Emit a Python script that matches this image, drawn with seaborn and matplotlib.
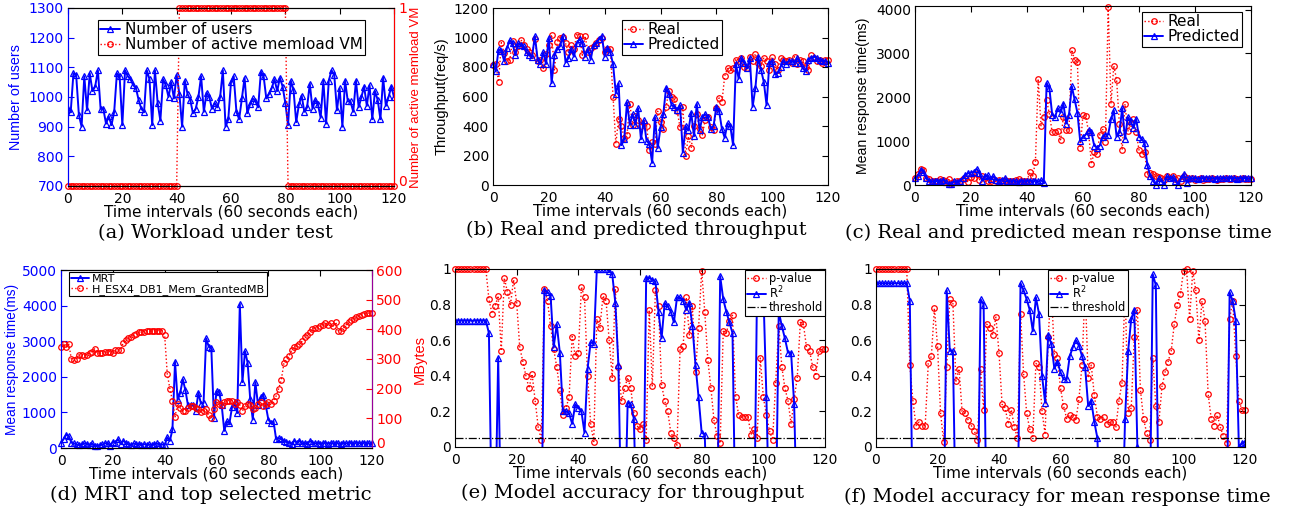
import matplotlib
matplotlib.use("Agg")
import matplotlib.pyplot as plt
import seaborn as sns

# ---------------- data ----------------
intervals = list(range(121))
x_ticks = [0, 20, 40, 60, 80, 100, 120]

users = [
    960, 950, 1080, 1075, 940, 900, 1070, 955, 1080, 1020,
    1035, 1090, 960, 960, 910, 935, 905, 950, 1080, 1070,
    905, 1090, 1070, 1060, 1040, 1030, 990, 960, 950, 1090,
    1060, 905, 1090, 980, 920, 1060, 1040, 1000, 1050, 995,
    1075, 1010, 900, 1055, 1010, 990, 945, 960, 1000, 1070,
    950, 1015, 1000, 960, 980, 965, 1000, 1090, 900, 925,
    1050, 1070, 950, 925, 995, 1065, 945, 975, 995, 985,
    965, 1085, 1070, 995, 1010, 1030, 1060, 1020, 1065, 1035,
    980, 905, 1055, 1025, 915, 975, 1005, 950, 965, 1045,
    960, 990, 975, 930, 1055, 910, 1055, 1090, 1075, 955,
    1030, 900, 1055, 985, 985, 950, 1055, 965, 1000, 1035,
    970, 1040, 925, 1020, 990, 925, 1065, 970, 1000, 1035,
    1000]

memload_vm = [
    0, 0, 0, 0, 0, 0, 0, 0, 0, 0,
    0, 0, 0, 0, 0, 0, 0, 0, 0, 0,
    0, 0, 0, 0, 0, 0, 0, 0, 0, 0,
    0, 0, 0, 0, 0, 0, 0, 0, 0, 0,
    0, 1, 1, 1, 1, 1, 1, 1, 1, 1,
    1, 1, 1, 1, 1, 1, 1, 1, 1, 1,
    1, 1, 1, 1, 1, 1, 1, 1, 1, 1,
    1, 1, 1, 1, 1, 1, 1, 1, 1, 1,
    1, 0, 0, 0, 0, 0, 0, 0, 0, 0,
    0, 0, 0, 0, 0, 0, 0, 0, 0, 0,
    0, 0, 0, 0, 0, 0, 0, 0, 0, 0,
    0, 0, 0, 0, 0, 0, 0, 0, 0, 0,
    0]

tput_real = [
    815, 820, 700, 965, 895, 840, 850, 975, 905, 940,
    985, 950, 920, 900, 880, 990, 840, 850, 790, 890,
    950, 1020, 780, 970, 1000, 1005, 960, 900, 950, 920,
    1020, 1010, 880, 1010, 900, 930, 940, 960, 980, 1000,
    900, 920, 925, 600, 280, 450, 400, 320, 340, 550,
    410, 470, 440, 400, 420, 400, 240, 290, 280, 500,
    430, 380, 530, 640, 600, 580, 500, 390, 530, 200,
    330, 250, 400, 480, 380, 340, 440, 460, 390, 370,
    520, 590, 560, 740, 790, 780, 790, 850, 840, 860,
    800, 790, 870, 840, 890, 830, 810, 860, 840, 780,
    870, 820, 780, 860, 850, 840, 850, 830, 870, 820,
    850, 840, 800, 780, 880, 860, 840, 850, 830, 850,
    850]

tput_pred = [
    820, 770, 920, 910, 840, 930, 980, 960, 880, 960,
    950, 940, 900, 880, 870, 1010, 850, 820, 900, 820,
    1000, 690, 880, 920, 940, 1010, 830, 860, 920, 870,
    960, 990, 960, 870, 920, 850, 950, 960, 990, 1010,
    870, 930, 900, 820, 620, 690, 270, 310, 560, 410,
    480, 410, 520, 310, 440, 300, 280, 150, 460, 250,
    390, 480, 660, 620, 540, 530, 510, 540, 220, 400,
    370, 490, 330, 550, 370, 460, 480, 460, 380, 400,
    530, 500, 380, 320, 420, 400, 270, 820, 720, 860,
    830, 790, 860, 530, 660, 870, 780, 700, 540, 830,
    840, 750, 760, 800, 840, 820, 840, 840, 830, 860,
    830, 790, 770, 850, 860, 870, 860, 850, 840, 840,
    830]

mrt_real = [
    150, 250, 370, 340, 150, 130, 100, 80, 100, 130,
    120, 80, 130, 50, 60, 80, 100, 130, 150, 60,
    180, 150, 250, 120, 200, 150, 100, 80, 130, 100,
    120, 80, 110, 90, 100, 80, 110, 130, 90, 100,
    80, 300, 200, 520, 2420, 1350, 1550, 1930, 1620, 1200,
    1200, 1220, 1030, 1550, 1250, 1260, 3080, 2850, 2800, 850,
    1600, 1570, 1200, 480, 750, 700, 1150, 1280, 980, 4050,
    1850, 2720, 2400, 1380, 800, 1850, 1220, 1420, 1500, 1200,
    800, 700, 750, 250, 280, 250, 200, 180, 150, 120,
    200, 150, 200, 130, 150, 100, 200, 150, 130, 150,
    120, 130, 150, 120, 140, 130, 150, 130, 120, 140,
    130, 150, 140, 130, 150, 140, 130, 150, 140, 130,
    140]

mrt_pred = [
    150, 200, 350, 300, 150, 100, 80, 80, 100, 80,
    120, 60, 20, 30, 80, 60, 100, 150, 230, 270,
    280, 300, 370, 280, 100, 200, 220, 130, 200, 120,
    100, 120, 150, 100, 80, 100, 80, 60, 100, 80,
    90, 100, 80, 100, 80, 110, 50, 2330, 2200, 1600,
    1550, 1750, 1650, 1850, 1400, 1600, 2250, 1950, 1650, 1000,
    1100, 1150, 1250, 1200, 900, 850, 900, 1100, 1150, 1150,
    1500, 1700, 1100, 1200, 1750, 1050, 1550, 1450, 1300, 1500,
    1100, 1050, 950, 450, 200, 100, 0, 150, 100, 0,
    200, 150, 180, 100, 0, 150, 250, 50, 150, 150,
    160, 140, 160, 150, 170, 150, 160, 140, 160, 150,
    160, 150, 170, 150, 160, 140, 160, 150, 160, 150,
    150]

granted_mb = [
    340, 350, 340, 350, 300, 295, 300, 315, 315, 310,
    315, 320, 325, 335, 320, 320, 320, 322, 325, 325,
    320, 330, 330, 330, 355, 365, 370, 375, 380, 385,
    390, 392, 392, 395, 395, 395, 396, 396, 396, 395,
    380, 250, 200, 160, 105, 150, 135, 125, 125, 135,
    140, 140, 135, 130, 120, 125, 130, 110, 100, 130,
    155, 150, 145, 155, 160, 160, 160, 150, 155, 145,
    125, 140, 150, 145, 130, 135, 150, 155, 140, 150,
    155, 150, 160, 175, 200, 230, 285, 300, 310, 330,
    340, 345, 350, 360, 375, 380, 390, 400, 405, 405,
    410, 415, 420, 415, 420, 410, 425, 395, 395, 405,
    415, 425, 430, 435, 440, 445, 450, 452, 455, 455,
    455]

pval_tput = [
    1, 1, 1, 1, 1, 1, 1, 1, 1, 1,
    1, 0.83, 0.75, 0.79, 0.85, 0.54, 0.95, 0.87, 0.80, 0.94,
    0.81, 0.56, 0.48, 0.40, 0.33, 0.41, 0.26, 0.11, 0.04, 0.89,
    0.82, 0.68, 0.55, 0.45, 0.32, 0.18, 0.22, 0.28, 0.62, 0.51,
    0.53, 0.90, 0.84, 0.40, 0.13, 0.03, 0.72, 0.67, 0.85, 0.82,
    0.60, 0.39, 0.89, 0.45, 0.26, 0.33, 0.39, 0.33, 0.19, 0.12,
    0.10, 0.13, 0.04, 0.77, 0.34, 0.88, 0.79, 0.35, 0.26, 0.20,
    0.08, 0.05, 0.01, 0.55, 0.57, 0.84, 0.63, 0.79, 0.42, 0.67,
    0.99, 0.76, 0.49, 0.33, 0.15, 0.06, 0.02, 0.65, 0.64, 0.71,
    0.74, 0.28, 0.18, 0.17, 0.17, 0.17, 0.07, 0.10, 0.05, 0.50,
    0.28, 0.18, 0.09, 0.04, 0.36, 0.68, 0.45, 0.33, 0.26, 0.13,
    0.27, 0.39, 0.70, 0.69, 0.56, 0.54, 0.45, 0.40, 0.54, 0.55,
    0.55]

r2_tput = [
    0.71, 0.71, 0.71, 0.71, 0.71, 0.71, 0.71, 0.71, 0.71, 0.71,
    0.71, 0.64, -0.5, -0.5, 0.50, -0.5, -0.5, -0.5, -0.5, -0.5,
    -0.5, -0.5, -0.5, -0.5, -0.5, -0.5, -0.5, -0.5, -0.5, 0.88,
    0.87, 0.85, 0.56, 0.69, 0.53, 0.20, 0.20, 0.19, 0.13, 0.24,
    0.22, 0.20, 0.08, 0.44, 0.59, 0.58, 1.0, 1.0, 1.0, 1.0,
    0.99, 0.97, 0.81, 0.46, -0.5, -0.5, 0.25, 0.24, 0.16, -0.5,
    -0.5, -0.5, 0.95, 0.95, 0.94, 0.93, 0.76, 0.61, 0.81, 0.79,
    0.76, 0.70, 0.84, 0.84, 0.82, 0.77, 0.81, 0.68, 0.46, 0.28,
    0.08, 0.07, -0.5, -0.5, -0.5, -0.5, 0.96, 0.83, 0.76, 0.70,
    0.64, -0.5, -0.5, -0.5, -0.5, -0.5, -0.5, -0.5, 0.95, 0.92,
    0.88, 0.28, -0.5, -0.5, -0.5, 0.76, 0.68, 0.61, 0.53, 0.53,
    0.24, -0.5, -0.5, -0.5, -0.5, -0.5, -0.5, -0.5, -0.5, -0.5,
    -0.5]

pval_mrt = [
    1, 1, 1, 1, 1, 1, 1, 1, 1, 1,
    1, 0.46, 0.26, 0.12, 0.14, 0.12, 0.12, 0.47, 0.51, 0.78,
    0.57, 0.19, 0.03, 0.45, 0.83, 0.81, 0.37, 0.44, 0.20, 0.19,
    0.15, 0.12, 0.09, 0.04, 0.44, 0.21, 0.69, 0.67, 0.63, 0.73,
    0.53, 0.24, 0.22, 0.13, 0.21, 0.11, 0.05, 0.75, 0.41, 0.19,
    0.10, 0.05, 0.47, 0.45, 0.20, 0.07, 0.62, 0.90, 0.52, 0.50,
    0.33, 0.23, 0.16, 0.18, 0.17, 0.15, 0.27, 0.46, 0.90, 0.39,
    0.46, 0.29, 0.17, 0.16, 0.17, 0.13, 0.14, 0.14, 0.11, 0.26,
    0.36, 0.90, 0.19, 0.22, 0.62, 0.77, 0.32, 0.16, 0.08, 0.04,
    0.50, 0.23, 0.14, 0.34, 0.42, 0.48, 0.54, 0.69, 0.80, 0.86,
    0.99, 1.0, 0.72, 0.99, 0.88, 0.60, 0.82, 0.71, 0.30, 0.16,
    0.12, 0.18, 0.11, 0.06, 0.02, 0.72, 0.82, 0.51, 0.26, 0.21,
    0.21]

r2_mrt = [
    0.92, 0.92, 0.92, 0.92, 0.92, 0.92, 0.92, 0.92, 0.92, 0.92,
    0.92, 0.82, -0.5, -0.5, -0.5, -0.5, -0.5, -0.5, -0.5, -0.5,
    -0.5, -0.5, -0.5, 0.88, 0.54, 0.54, -0.5, -0.5, -0.5, -0.5,
    -0.5, -0.5, -0.5, -0.5, 0.83, 0.80, -0.5, -0.5, -0.5, -0.5,
    -0.5, -0.5, -0.5, -0.5, -0.5, -0.5, -0.5, 0.92, 0.88, 0.83,
    0.77, 0.65, 0.84, 0.75, 0.40, 0.25, 0.63, 0.58, 0.44, 0.48,
    0.42, 0.38, 0.38, 0.51, 0.56, 0.60, 0.57, 0.51, 0.45, 0.23,
    0.26, 0.14, 0.05, -0.5, -0.5, -0.5, -0.5, -0.5, -0.5, -0.5,
    -0.5, 0.16, 0.54, 0.72, 0.77, 0.0, -0.5, -0.5, -0.5, -0.5,
    0.97, 0.91, -0.5, -0.5, -0.5, -0.5, -0.5, -0.5, -0.5, -0.5,
    -0.5, -0.5, -0.5, -0.5, -0.5, -0.5, -0.5, -0.5, -0.5, -0.5,
    -0.5, -0.5, -0.5, -0.5, -0.5, 0.87, 0.82, 0.71, 0.0, 0.02,
    0.03]

threshold = 0.05

xlabel_text = "Time intervals (60 seconds each)"
captions = {
    "a": "(a) Workload under test",
    "b": "(b) Real and predicted throughput",
    "c": "(c) Real and predicted mean response time",
    "d": "(d) MRT and top selected metric",
    "e": "(e) Model accuracy for throughput",
    "f": "(f) Model accuracy for mean response time",
}

# ---------------- style ----------------
sns.set_style("white")
plt.rcParams["font.family"] = ["DejaVu Sans"]
plt.rcParams.update({
    "axes.edgecolor": "black", "axes.linewidth": 0.8,
    "xtick.color": "black", "ytick.color": "black",
    "text.color": "black", "axes.labelcolor": "black",
})
BLUE = "#0000ff"
RED = "#ff0000"
PURPLE = "#990099"
W, H = 1299, 515
TICK_FS = 10
XL_FS = 11
YL_FONT = "Liberation Sans"

fig = plt.figure(figsize=(W / 100, H / 100), dpi=100)


def px_axes(l, t, r, b):
    return fig.add_axes([l / W, 1 - b / H, (r - l) / W, (b - t) / H])


def tri_line(ax, y, clip=True):
    sns.lineplot(x=intervals, y=y, ax=ax, color=BLUE, marker="^", markersize=5,
                 markerfacecolor="none", markeredgecolor=BLUE, markeredgewidth=0.9,
                 linewidth=1.4, linestyle="-", errorbar=None, sort=False,
                 legend=False, clip_on=clip)
    return ax.lines[-1]


def dot_line(ax, y, clip=True):
    sns.lineplot(x=intervals, y=y, ax=ax, color=RED, marker="o", markersize=4,
                 markerfacecolor="none", markeredgecolor=RED, markeredgewidth=0.9,
                 linewidth=1.0, linestyle=":", errorbar=None, sort=False,
                 legend=False, clip_on=clip)
    return ax.lines[-1]


def base_style(ax, right=True):
    ax.set_xlim(0, 120)
    ax.set_xticks(x_ticks)
    ax.tick_params(direction="in", length=4, width=0.8, labelsize=TICK_FS,
                   top=True, right=right, pad=3)
    ax.tick_params(axis="x", pad=4)
    ax.set_xlabel(xlabel_text, fontsize=XL_FS, labelpad=-1)


def legend(ax, handles, labels, fs, hl=1.3, **kw):
    lg = ax.legend(handles, labels, fontsize=fs, frameon=True, fancybox=False,
                   edgecolor="black", framealpha=1, borderaxespad=0,
                   borderpad=0.15, labelspacing=0.0, handletextpad=0.3,
                   handlelength=hl, **kw)
    lg.get_frame().set_linewidth(0.8)
    lg.set_zorder(20)
    return lg


def lift_zero_label(ax2):
    # keep the right-axis "0" clear of the "120" x tick label below it
    ax2.yaxis.get_major_ticks()[0].label2.set_verticalalignment("baseline")


# ---------------- (a) ----------------
ax = px_axes(68, 8, 394, 186)
h1 = tri_line(ax, users)
base_style(ax, right=False)
ax.set_ylim(700, 1300)
ax.set_yticks([700, 800, 900, 1000, 1100, 1200, 1300])
ax.tick_params(axis="y", colors=BLUE)
ax.spines["left"].set_color(BLUE)
ax.set_ylabel("Number of users", color=BLUE, fontsize=10.3, family=YL_FONT, labelpad=4)
ax2 = ax.twinx()
h2 = dot_line(ax2, memload_vm, clip=False)
ax2.set_ylim(0, 1)
ax2.set_yticks([0, 1])
ax2.tick_params(direction="in", length=4, width=0.8, labelsize=TICK_FS, colors=RED, pad=3)
ax2.spines["right"].set_color(RED)
ax2.spines["left"].set_color(BLUE)
ax2.set_ylabel("Number of active memload VM", color=RED, fontsize=9.5,
               family=YL_FONT, labelpad=2)
lift_zero_label(ax2)
legend(ax2, [h1, h2], ["Number of users", "Number of active memload VM"], 11,
       loc="upper left", bbox_to_anchor=(0.092, 0.933))

# ---------------- (b) ----------------
ax = px_axes(493, 8, 828, 185)
h2 = dot_line(ax, tput_real, clip=False)
h1 = tri_line(ax, tput_pred, clip=False)
base_style(ax)
ax.set_ylim(0, 1200)
ax.set_yticks([0, 200, 400, 600, 800, 1000, 1200])
ax.set_ylabel("Throughput(req/s)", fontsize=10.5, family=YL_FONT, labelpad=4)
legend(ax, [h2, h1], ["Real", "Predicted"], 11, hl=1.2,
       loc="upper left", bbox_to_anchor=(0.385, 0.932))

# ---------------- (c) ----------------
ax = px_axes(915, 6, 1251, 185)
h2 = dot_line(ax, mrt_real, clip=False)
h1 = tri_line(ax, mrt_pred, clip=False)
base_style(ax)
ax.set_ylim(0, 4080)
ax.set_yticks([0, 1000, 2000, 3000, 4000])
ax.set_ylabel("Mean response time(ms)", fontsize=10.2, family=YL_FONT, labelpad=4)
legend(ax, [h2, h1], ["Real", "Predicted"], 11, hl=1.2,
       loc="upper right", bbox_to_anchor=(0.973, 0.966))

# ---------------- (d) ----------------
ax = px_axes(61, 270, 372, 448)
h1 = tri_line(ax, mrt_real, clip=False)
base_style(ax, right=False)
ax.set_ylim(0, 5000)
ax.set_yticks([0, 1000, 2000, 3000, 4000, 5000])
ax.tick_params(axis="y", colors=BLUE)
ax.spines["left"].set_color(BLUE)
ax.set_ylabel("Mean response time(ms)", color=BLUE, fontsize=9.8, family=YL_FONT, labelpad=2)
ax2 = ax.twinx()
h2 = dot_line(ax2, granted_mb, clip=False)
ax2.set_ylim(0, 600)
ax2.set_yticks([0, 100, 200, 300, 400, 500, 600])
ax2.tick_params(direction="in", length=4, width=0.8, labelsize=TICK_FS, colors=RED, pad=3)
ax2.spines["right"].set_color(PURPLE)
ax2.spines["left"].set_color(BLUE)
ax2.set_ylabel("MBytes", color=RED, fontsize=10.5, family=YL_FONT, labelpad=7)
lift_zero_label(ax2)
legend(ax2, [h1, h2], ["MRT", "H_ESX4_DB1_Mem_GrantedMB"], 8, hl=1.6,
       loc="upper left", bbox_to_anchor=(0.026, 0.989))


# ---------------- (e), (f) ----------------
def accuracy(ax, pvals, r2, anchor, loc):
    h1 = dot_line(ax, pvals, clip=False)
    h2 = tri_line(ax, r2, clip=True)
    h3 = ax.axhline(threshold, color="black", linestyle="-.", linewidth=0.9)
    base_style(ax)
    ax.set_ylim(0, 1)
    ax.set_yticks([0, 0.2, 0.4, 0.6, 0.8, 1])
    ax.set_yticklabels(["0", "0.2", "0.4", "0.6", "0.8", "1"])
    legend(ax, [h1, h2, h3], ["p-value", "R$^2$", "threshold"], 8.3, hl=1.6,
           loc=loc, bbox_to_anchor=anchor)


ax = px_axes(455, 269, 825, 447)
accuracy(ax, pval_tput, r2_tput, (1.0, 0.994), "upper right")
ax = px_axes(876, 269, 1245, 447)
accuracy(ax, pval_mrt, r2_mrt, (0.466, 0.994), "upper left")

# ---------------- captions ----------------
cap_pos = {"a": (215, 233), "b": (636, 230), "c": (1058, 233),
           "d": (211, 495), "e": (633, 493), "f": (1057, 497)}
for k, (cx, cy) in cap_pos.items():
    fig.text(cx / W, 1 - cy / H, captions[k], ha="center", va="center",
             fontsize=14, family="DejaVu Serif")

fig.savefig("out.png", dpi=100)
